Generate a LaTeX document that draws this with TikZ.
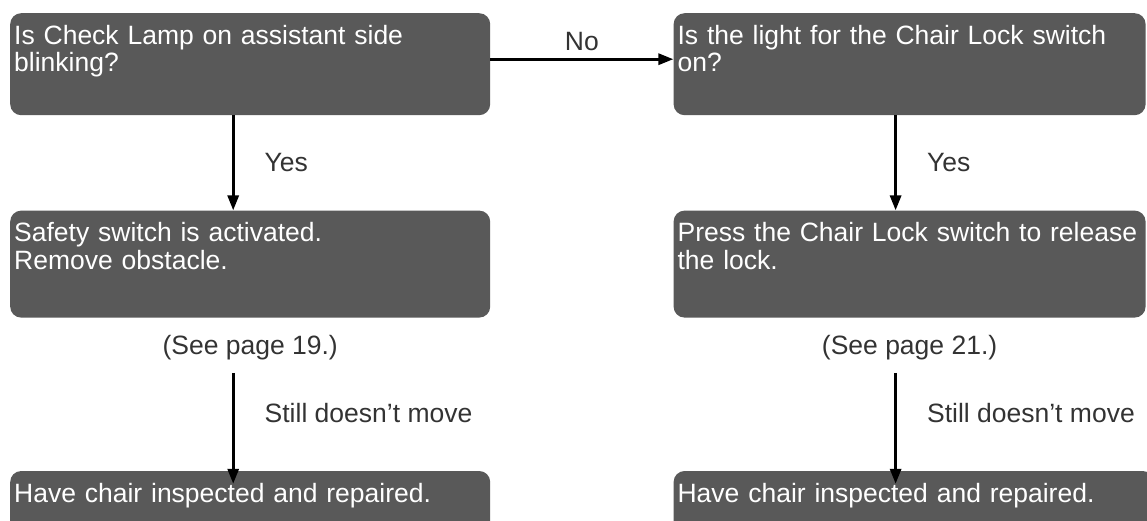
\documentclass[tikz,border=0pt]{standalone}
\usepackage{fontspec}
\setmainfont{Liberation Sans}
\usetikzlibrary{positioning, arrows.meta}
\definecolor{chartbox}{HTML}{595959}
\definecolor{charttext}{HTML}{FFFFFF}
\definecolor{chartnote}{HTML}{333333}

\begin{document}
\begin{tikzpicture}[
    x=1pt, y=-1pt,
    node distance=95pt and 183pt,
    every node/.style={font=\fontsize{26.5}{27.5}\selectfont},
    box/.style={
      fill=chartbox, text=charttext,
      rounded corners=11pt,
      inner xsep=4pt, inner ysep=0pt,
      text width=472pt, align=left,
      text height=31pt, text depth=71pt,
    },
    flow/.style={
      -{Triangle[width=11pt,length=15pt]}, draw=black, line width=3pt,
    },
    note/.style={
      text=chartnote, inner sep=0pt,
    },
  ]
  \useasboundingbox (0,0) rectangle (1147,520);

  \node[box, anchor=north west] (lamp) at (10,13) {Is Check Lamp on assistant side\\blinking?};
  \node[box, text width=464pt, right=of lamp] (light) {Is the light for the Chair Lock switch\\on?};
  \node[box, text depth=76pt, below=of lamp] (safety) {Safety switch is activated.\\Remove obstacle.};
  \node[box, text depth=76pt, text width=464pt, right=of safety] (lock) {Press the Chair Lock switch to release\\the lock.};
  \node[box, text depth=30pt, below=153pt of safety] (repleft) {Have chair inspected and repaired.};
  \node[box, text depth=30pt, right=of repleft] (repright) {Have chair inspected and repaired.};

  \node[note, below=17pt of safety] (seeleft) {(See page 19.)};
  \node[note, below=17pt of lock] (seeright) {(See page 21.)};

  \draw[flow] ([yshift=5pt]lamp.east) -- node[note, above=7pt] {No} ([yshift=5pt]light.west);
  \draw[flow] ([xshift=-17pt]lamp.south) -- node[note, right=30pt] {Yes} ([xshift=-17pt]safety.north);
  \draw[flow] ([xshift=-14pt]light.south) -- node[note, right=30pt] {Yes} ([xshift=-14pt]lock.north);
  \draw[flow] ([xshift=-17pt,yshift=-13pt]seeleft.south) -- node[note, pos=0.36, right=30pt] {Still doesn’t move} ([xshift=-17pt,yshift=-13pt]seeleft.south |- repleft.north);
  \draw[flow] ([xshift=-14pt,yshift=-13pt]seeright.south) -- node[note, pos=0.36, right=30pt] {Still doesn’t move} ([xshift=-14pt,yshift=-13pt]seeright.south |- repright.north);
\end{tikzpicture}
\end{document}
